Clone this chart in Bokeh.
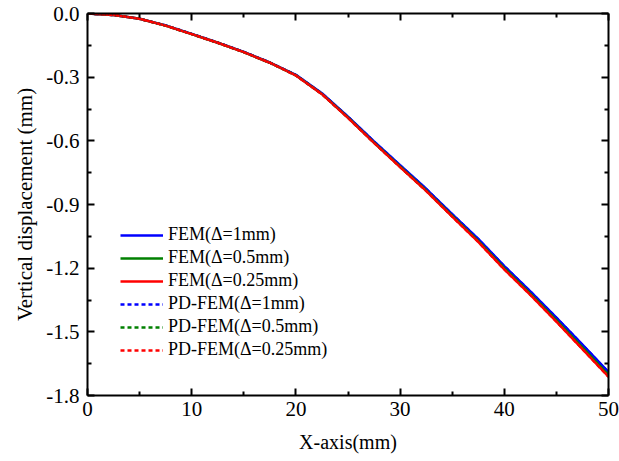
from bokeh.plotting import figure
from bokeh.models import LinearAxis, FixedTicker, Legend, LegendItem, Range1d
from bokeh.embed import file_html
from bokeh.resources import INLINE

# ---- data ----
x_mm = [0, 2.5, 5, 7.5, 10, 12.5, 15, 17.5, 20, 22.5, 25, 27.5, 30, 32.5, 35, 37.5, 40, 42.5, 45, 47.5, 50]
fem_1 = [0, -0.007, -0.025, -0.056, -0.096, -0.137, -0.181, -0.231, -0.289, -0.376, -0.486, -0.603, -0.715, -0.826, -0.945, -1.062, -1.190, -1.309, -1.433, -1.560, -1.690]
fem_05 = [0, -0.007, -0.025, -0.057, -0.097, -0.138, -0.182, -0.232, -0.291, -0.379, -0.490, -0.608, -0.721, -0.833, -0.953, -1.071, -1.200, -1.320, -1.445, -1.573, -1.703]
fem_025 = [0, -0.007, -0.025, -0.057, -0.097, -0.138, -0.182, -0.232, -0.292, -0.380, -0.492, -0.610, -0.724, -0.836, -0.957, -1.076, -1.206, -1.326, -1.452, -1.581, -1.711]
pd_1 = [0, -0.007, -0.025, -0.056, -0.096, -0.137, -0.181, -0.231, -0.290, -0.377, -0.487, -0.604, -0.716, -0.827, -0.946, -1.063, -1.191, -1.310, -1.434, -1.561, -1.691]
pd_05 = [0, -0.007, -0.025, -0.057, -0.097, -0.138, -0.182, -0.232, -0.291, -0.379, -0.490, -0.608, -0.721, -0.833, -0.953, -1.071, -1.200, -1.320, -1.445, -1.573, -1.704]
pd_025 = [0, -0.007, -0.025, -0.057, -0.097, -0.138, -0.182, -0.232, -0.292, -0.380, -0.492, -0.610, -0.724, -0.836, -0.957, -1.076, -1.206, -1.326, -1.452, -1.581, -1.712]

labels = ["FEM(\u0394=1mm)", "FEM(\u0394=0.5mm)", "FEM(\u0394=0.25mm)",
          "PD-FEM(\u0394=1mm)", "PD-FEM(\u0394=0.5mm)", "PD-FEM(\u0394=0.25mm)"]
x_ticks = [0, 10, 20, 30, 40, 50]
x_minor = [5, 15, 25, 35, 45]
y_ticks = [0.0, -0.3, -0.6, -0.9, -1.2, -1.5, -1.8]
y_minor = [-0.15, -0.45, -0.75, -1.05, -1.35, -1.65]

FONT = "Liberation Serif"

p = figure(width=619, height=461, output_backend="svg", toolbar_location=None,
           x_range=Range1d(0, 50), y_range=Range1d(-1.8, 0.0),
           x_axis_location=None, y_axis_location=None,
           min_border_left=87, min_border_right=11, min_border_top=13, min_border_bottom=66)
p.grid.visible = False
p.outline_line_color = None
p.background_fill_color = "white"
p.border_fill_color = "white"


def style_axis(ax):
    ax.axis_line_width = 2
    ax.axis_line_color = "black"
    ax.major_tick_in = 7
    ax.major_tick_out = 0
    ax.minor_tick_in = 4
    ax.minor_tick_out = 0
    ax.major_tick_line_width = 2
    ax.minor_tick_line_width = 2
    ax.major_tick_line_color = "black"
    ax.minor_tick_line_color = "black"
    ax.major_label_text_font = FONT
    ax.major_label_text_font_size = "21px"
    ax.major_label_text_color = "black"
    ax.axis_label_text_font = FONT
    ax.axis_label_text_font_size = "20px"
    ax.axis_label_text_font_style = "normal"
    ax.axis_label_text_color = "black"


xb = LinearAxis(ticker=FixedTicker(ticks=x_ticks, minor_ticks=x_minor), axis_label="X-axis(mm)")
style_axis(xb)
xb.major_label_standoff = 6
xb.axis_label_standoff = 12
p.add_layout(xb, "below")

xt = LinearAxis(ticker=FixedTicker(ticks=x_ticks, minor_ticks=x_minor))
style_axis(xt)
xt.major_label_overrides = {t: "" for t in x_ticks}
p.add_layout(xt, "above")

yl = LinearAxis(ticker=FixedTicker(ticks=y_ticks, minor_ticks=y_minor),
                axis_label="Vertical displacement (mm)")
style_axis(yl)
yl.axis_label_text_font_size = "21px"
yl.major_label_standoff = 8
yl.axis_label_standoff = 6
yl.major_label_overrides = {t: f"{t:.1f}" for t in y_ticks}
yl.major_label_overrides[0.0] = "0.0"
p.add_layout(yl, "left")

yr = LinearAxis(ticker=FixedTicker(ticks=y_ticks, minor_ticks=y_minor))
style_axis(yr)
yr.major_label_overrides = {t: "" for t in y_ticks}
p.add_layout(yr, "right")

series = [fem_1, fem_05, fem_025, pd_1, pd_05, pd_025]
colors = ["#0000ff", "#008000", "#ff0000", "#0000ff", "#008000", "#ff0000"]
dashes = ["solid", "solid", "solid", "4 3", "4 3", "4 3"]
items = []
for vals, c, d, lab in zip(series, colors, dashes, labels):
    r = p.line(x_mm, vals, line_color=c, line_width=2.5, line_dash=d)
    items.append(LegendItem(label=lab, renderers=[r]))

legend = Legend(items=items, location=(33, 35), orientation="vertical",
                border_line_color=None, background_fill_alpha=0,
                padding=0, margin=0, spacing=2,
                glyph_width=43, glyph_height=20, label_height=20,
                label_standoff=5,
                label_text_font=FONT, label_text_font_size="18px",
                label_text_color="black")
p.add_layout(legend, "center")

open("out.html", "w").write(file_html(p, INLINE))
